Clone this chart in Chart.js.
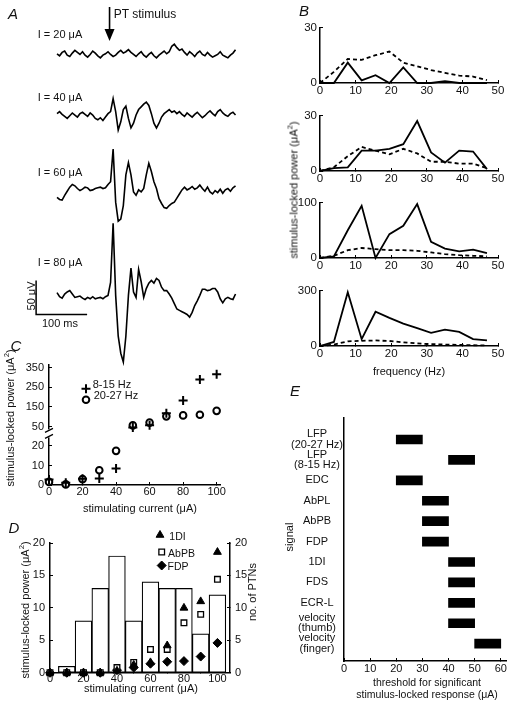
<!DOCTYPE html>
<html>
<head>
<meta charset="utf-8">
<script src="https://cdn.jsdelivr.net/npm/chart.js@4.4.1/dist/chart.umd.min.js"></script>
<style>
  body { margin: 0; background: #fff; }
  #fig { position: relative; width: 516px; height: 705px; overflow: hidden;
         font-family: 'Liberation Sans', Arial, sans-serif; color: #111; }
  #fig canvas { position: absolute; z-index: 1; }
  .t { position: absolute; z-index: 2; color: #111; white-space: nowrap; line-height: 1; transform: translate(-50%, -50%); }
  .t sup { font-size: 0.7em; line-height: 0; }
</style>
</head>
<body>
<div id="fig"></div>
<script>
// ---------- A: LFP traces, one sample every 5 ms from sweep start (uV) ----------
const traceStep = 5;
const traceCurrents = [20, 40, 60, 80];
const trace20 = [0,-3,2,4,-2,-4,1,5,2,-1, 3,-2,-5,-1,4,1,-3,-6,-2,0, 3,-1,-4,-2,2,5,1,3,6,2,
  -1,-4,0,3,-2,-5,-1,2,-3,-6, -2,1,4,0,3,11,14,9,5,7, 2,-2,3,0,-4,1,4,-1,-3,2, -2,-5,-3,-1,3,-2,-4,-6,-2,1, 6];
const trace40 = [2,5,1,-2,-5,-1,3,0,-3,2,4,1,-2,3,0,-5,-7,-4,-8,-3,2,5,
  24,5,-22,-10,8,13,-5,-19,-12,0,8,12,16,19,14,2,-12,-19,-12,-3,2,
  5,8,4,6,2,5,1,-2,3,0,-3,1,4,0,-4,-1,3,6,2,-1,5,8,3,0,-2,2,4,0];
const trace60 = [-3,-6,-7,0,6,12,16,14,10,7,9, 12,11,7,8,10,11,12,10,11,16,20,
  68,-10,-38,-35,-15,30,48,30,5,0,8, 5,10,30,47,35,20,10,-5,-12,-18,-19,
  -15,-12,-10,-4,2,8,12,8,10,13,9, 11,15,10,6,12,5,2,7,4,9,3, 8,10,6,11,14];
const trace80 = [4,-2,-4,2,5,7,2,-3,-2,-1,-4, -6,-3,-5,-2,-5,-4,-3,-5,-2,0,19,
  106,0,-60,-85,-98,-60,0,40,5,-3,38, 20,-3,10,18,22,18,25,22,12,7,7,
  2,-4,-12,-20,-22,-24,-26,-28,-32,-25,-15, -8,0,9,9,7,8,10,10,5,-5,-11, -5,-3,-5,-6,2];
const traceOffsets = [-79, -169, -287, -434];   // stacking of the sweeps (uV)
const stimTime = 103;                            // ms
const barOrigin = { t: -41, v: -462 };           // calibration bar corner
const barSize = { t: 100, v: 50 };               // 100 ms, 50 uV

// ---------- B: stimulus-locked spectra ----------
const freqs = [0, 3.9, 7.8, 11.7, 15.6, 19.5, 23.4, 27.3, 31.2, 35.1, 39.1, 43.0, 46.9];
const spec20 = [0, 0, 11, 1.4, 4.2, 0, 8.4, 0, 0, 1, 0, 0, 0];
const spec20Base = [0, 6, 13, 12.5, 15, 17, 11, 9, 7, 5.5, 4, 3.5, 1.5];
const spec40 = [0, 1.5, 2, 11, 11, 12, 14.5, 27, 10, 4.5, 11, 10.5, 1];
const spec40Base = [0, 2, 8, 13, 11, 9, 12, 9.5, 5, 5, 4, 4, 1.5];
const spec60 = [0, 3, 50, 94, 0, 43, 58, 97, 29, 17, 12, 15, 9];
const spec60Base = [0, 4, 14, 18, 16, 14, 14, 13, 10, 7, 5, 4, 3];
const spec80 = [0, 22, 290, 37, 185, 152, 121, 96, 71, 88, 76, 37, 30];
const spec80Base = [0, 8, 25, 28, 30, 27, 20, 14, 10, 8, 6, 4, 3];
const specMax = [30, 30, 100, 300];
const bTicks = [0, 10, 20, 30, 40, 50];

// ---------- C: power vs stimulating current ----------
const currents = [0, 10, 20, 30, 40, 50, 60, 70, 80, 90, 100];
const power8to15 = [2.8, 1.1, 3.2, 3.3, 8.4, 45, 56, 118, 183, 290, 317];
const power20to27 = [1.6, 0.3, 3.0, 7.6, 17.5, 56, 70, 102, 107, 110, 130];
const cLowMax = 28;
const cTicksX = [0, 20, 40, 60, 80, 100];
const cTicksLow = [0, 10, 20];
const cTicksHigh = [50, 150, 250, 350];

// ---------- D: EMG power and PTN counts ----------
const ptnCurrents = [10, 20, 30, 40, 50, 60, 70, 80, 90, 100];
const ptnCounts = [1, 8, 13, 18, 8, 14, 13, 13, 6, 12];
const emg1DI = [0, 0, 0, 0, 0.3, 1.2, 1.6, 4.2, 10, 11, 18.6];
const emgAbPB = [0, 0, 0, 0, 0.8, 1.6, 3.6, 3.6, 7.7, 9, 14.4];
const emgFDP = [0, 0, 0, 0, 0.4, 0.8, 1.4, 1.7, 1.8, 2.5, 4.6];
const dTicksX = [0, 20, 40, 60, 80, 100];
const dTicksY = [0, 5, 10, 15, 20];

// ---------- E: thresholds ----------
const signals = ['LFP\n(20-27 Hz)', 'LFP\n(8-15 Hz)', 'EDC', 'AbPL', 'AbPB', 'FDP', '1DI', 'FDS', 'ECR-L',
  'velocity\n(thumb)', 'velocity\n(finger)'];
const thresholds = [20, 40, 20, 30, 30, 30, 40, 40, 40, 40, 50];
const stepWidth = 10;
const eTicksX = [0, 10, 20, 30, 40, 50, 60];

Chart.defaults.font.family = "'Liberation Sans', Arial, sans-serif";
Chart.defaults.font.size = 11;
Chart.defaults.color = '#111';
Chart.defaults.animation = false;
Chart.defaults.responsive = false;
Chart.defaults.devicePixelRatio = 1;
Chart.defaults.layout.autoPadding = false;
Chart.defaults.plugins.legend.display = false;
Chart.defaults.plugins.tooltip.enabled = false;

const fig = document.getElementById('fig');

function makeCanvas(area, pad) {
  const c = document.createElement('canvas');
  c.width = area.w + pad.l + pad.r;
  c.height = area.h + pad.t + pad.b;
  c.style.left = (area.x - pad.l) + 'px';
  c.style.top = (area.y - pad.t) + 'px';
  fig.appendChild(c);
  return c;
}

function txt(html, cx, cy, size, kind) {
  const d = document.createElement('div');
  d.className = 't';
  d.innerHTML = html;
  d.style.left = cx + 'px';
  d.style.top = cy + 'px';
  d.style.fontSize = size + 'px';
  if (kind === 'rot') d.style.transform = 'translate(-50%,-50%) rotate(-90deg)';
  if (kind === 'letter') d.style.fontStyle = 'italic';
  fig.appendChild(d);
}

// common axis
function ax(o) {
  return {
    type: 'linear',
    min: o.min, max: o.max,
    position: o.position,
    reverse: !!o.reverse,
    stack: o.stack, stackWeight: o.stackWeight,
    offset: false,
    border: { display: true, color: '#000', width: 1.5 },
    grid: { display: !o.noTicks, drawOnChartArea: false, drawTicks: true, tickLength: -3, color: '#000', lineWidth: 1 },
    ticks: {
      padding: (o.pad == null ? 3 : o.pad) + 3, maxRotation: 0, minRotation: 0, autoSkip: false,
      color: '#111', font: { size: o.size || 11, lineHeight: 0.95 },
      crossAlign: o.crossAlign || 'near',
      callback: o.callback || (v => String(v))
    },
    title: o.title ? { display: true, text: o.title, color: '#111', font: { size: 11 }, padding: 0 } : { display: false },
    afterBuildTicks: s => { if (o.ticks) s.ticks = o.ticks.map(v => ({ value: v })); },
    afterFit: s => { if (o.w != null) s.width = o.w; if (o.h != null) s.height = o.h; }
  };
}

function marker(ctx, style, radius, x, y, fill, lw) {
  ctx.fillStyle = fill;
  ctx.strokeStyle = '#000';
  ctx.lineWidth = lw;
  Chart.helpers.drawPoint(ctx, { pointStyle: style, radius: radius, rotation: 0, borderWidth: lw }, x, y);
}

// ---------- panel A ----------
const arrowPlugin = {
  id: 'arrow',
  afterDatasetsDraw(chart) {
    const ctx = chart.ctx;
    const x = chart.scales.x.getPixelForValue(stimTime);
    ctx.save();
    ctx.strokeStyle = '#000'; ctx.fillStyle = '#000'; ctx.lineWidth = 1.6;
    ctx.beginPath(); ctx.moveTo(x, 7); ctx.lineTo(x, 32); ctx.stroke();
    ctx.beginPath(); ctx.moveTo(x - 5, 29); ctx.lineTo(x + 5, 29); ctx.lineTo(x, 41); ctx.closePath(); ctx.fill();
    ctx.restore();
  }
};
const traces = [trace20, trace40, trace60, trace80];
const aCanvas = makeCanvas({ x: 0, y: 0, w: 260, h: 375 }, { l: 0, t: 0, r: 0, b: 0 });
new Chart(aCanvas, {
  type: 'line',
  data: {
    datasets: traces.map((tr, k) => ({
      data: tr.map((v, i) => ({ x: i * traceStep, y: v + traceOffsets[k] })),
      borderColor: '#000', borderWidth: 1.6, pointRadius: 0, clip: false
    })).concat([{
      data: [
        { x: barOrigin.t, y: barOrigin.v + barSize.v },
        { x: barOrigin.t, y: barOrigin.v },
        { x: barOrigin.t + barSize.t, y: barOrigin.v }
      ],
      borderColor: '#000', borderWidth: 1.5, pointRadius: 0, clip: false
    }])
  },
  options: {
    layout: { padding: 0 },
    scales: {
      x: { type: 'linear', display: false, min: -111.8, max: 398 },
      y: { type: 'linear', display: false, min: -551, max: 0 }
    }
  },
  plugins: [arrowPlugin]
});
txt('A', 13, 13, 15, 'letter');
txt('PT stimulus', 145, 13.5, 12);
traceCurrents.forEach((c, k) => txt('I = ' + c + ' &mu;A', 60, [34, 97, 172, 262][k], 11));
txt('50 &mu;V', 31, 296, 11, 'rot');
txt('100 ms', 60, 322.5, 11);

// ---------- panel B ----------
const spectra = [spec20, spec40, spec60, spec80];
const spectraBase = [spec20Base, spec40Base, spec60Base, spec80Base];
const bTops = [24, 112, 199, 287];
bTops.forEach((top, k) => {
  const last = k === bTops.length - 1;
  const cv = makeCanvas({ x: 320, y: top, w: 178, h: 59 }, { l: 40, t: 8, r: 12, b: last ? 33 : 16 });
  new Chart(cv, {
    type: 'line',
    data: {
      datasets: [
        { data: freqs.map((f, i) => ({ x: f, y: spectra[k][i] })), borderColor: '#000', borderWidth: 1.8, pointRadius: 0, clip: false },
        { data: freqs.map((f, i) => ({ x: f, y: spectraBase[k][i] })), borderColor: '#000', borderWidth: 1.8, borderDash: [4, 3], pointRadius: 0, clip: false }
      ]
    },
    options: {
      layout: { padding: { top: 8, right: 12, left: 0, bottom: 0 } },
      scales: {
        x: ax({ min: 0, max: 50, position: 'bottom', ticks: bTicks, h: last ? 33 : 16, pad: 2, size: 11.5,
                title: last ? 'frequency (Hz)' : null }),
        y: ax({ min: 0, max: specMax[k], position: 'left', ticks: [0, specMax[k]], w: 40, pad: 3, size: 11.5 })
      }
    }
  });
});
txt('B', 304, 10, 15, 'letter');
txt('stimulus-locked power (&mu;A<sup>2</sup>)', 294, 190, 11, 'rot');

// ---------- panel C ----------
const cSplit = (vals, low) => currents.map((c, i) => ({ x: c, y: vals[i] }))
  .filter(p => low ? p.y <= cLowMax : p.y > cLowMax);
const plusStyle = { pointStyle: 'cross', pointRadius: 4.5, borderWidth: 2, borderColor: '#000', clip: false };
const ringStyle = { pointStyle: 'circle', pointRadius: 3.3, borderWidth: 2, borderColor: '#000', backgroundColor: '#fff', clip: false };
const cPlugin = {
  id: 'cExtras',
  afterDraw(chart) {
    const ctx = chart.ctx, a = chart.chartArea;
    const yb = chart.scales.yl.top;
    ctx.save();
    ctx.fillStyle = '#fff';
    ctx.fillRect(a.left - 4, yb - 1, 8, 8);
    ctx.strokeStyle = '#000'; ctx.lineWidth = 1.2;
    ctx.beginPath();
    ctx.moveTo(a.left - 4, yb + 2); ctx.lineTo(a.left + 4, yb - 2);
    ctx.moveTo(a.left - 4, yb + 8); ctx.lineTo(a.left + 4, yb + 4);
    ctx.stroke();
    marker(ctx, 'cross', 4.5, a.left + 37, a.top + 23.5, '#000', 2);
    marker(ctx, 'circle', 3.3, a.left + 37, a.top + 34.5, '#fff', 2);
    ctx.restore();
  }
};
const cCanvas = makeCanvas({ x: 48.5, y: 360, w: 171.5, h: 125 }, { l: 45, t: 8, r: 12, b: 16 });
new Chart(cCanvas, {
  type: 'scatter',
  data: {
    datasets: [
      Object.assign({ data: cSplit(power8to15, true), yAxisID: 'yl' }, plusStyle),
      Object.assign({ data: cSplit(power8to15, false), yAxisID: 'yh' }, plusStyle),
      Object.assign({ data: cSplit(power20to27, true), yAxisID: 'yl' }, ringStyle),
      Object.assign({ data: cSplit(power20to27, false), yAxisID: 'yh' }, ringStyle)
    ]
  },
  options: {
    layout: { padding: { top: 8, right: 12, left: 0, bottom: 0 } },
    scales: {
      x: ax({ min: 0, max: 102, position: 'bottom', ticks: cTicksX, h: 16, pad: 2 }),
      yl: ax({ min: 0, max: cLowMax, position: 'left', stack: 'c', stackWeight: 57, ticks: cTicksLow, w: 45, pad: 5 }),
      yh: ax({ min: 30.4, max: 363, position: 'left', stack: 'c', stackWeight: 68, ticks: cTicksHigh, w: 45, pad: 5 })
    }
  },
  plugins: [cPlugin]
});
txt('C', 16, 345, 15, 'letter');
txt('8-15 Hz', 112, 383.5, 11);
txt('20-27 Hz', 116, 394.5, 11);
txt('stimulus-locked power (&mu;A<sup>2</sup>)', 10, 418, 11, 'rot');
txt('stimulating current (&mu;A)', 140, 508, 11);

// ---------- panel D ----------
const dPoints = vals => currents.map((c, i) => ({ x: c, y: vals[i] }));
const dPlugin = {
  id: 'dLegend',
  afterDraw(chart) {
    const ctx = chart.ctx, a = chart.chartArea;
    ctx.save();
    marker(ctx, 'triangle', 4.5, a.left + 110, a.top - 8, '#000', 1);
    marker(ctx, 'rect', 4, a.left + 111.7, a.top + 9, '#fff', 1.3);
    marker(ctx, 'rectRot', 4.5, a.left + 111.7, a.top + 22.5, '#000', 1);
    ctx.restore();
  }
};
const dCanvas = makeCanvas({ x: 50, y: 543, w: 180, h: 131 }, { l: 40, t: 20, r: 28, b: 12 });
new Chart(dCanvas, {
  type: 'bar',
  data: {
    datasets: [
      { type: 'scatter', data: dPoints(emg1DI), yAxisID: 'y', order: 1, pointStyle: 'triangle', pointRadius: 4.5,
        backgroundColor: '#000', borderColor: '#000', borderWidth: 1, clip: false },
      { type: 'scatter', data: dPoints(emgAbPB), yAxisID: 'y', order: 1, pointStyle: 'rect', pointRadius: 4,
        backgroundColor: '#fff', borderColor: '#000', borderWidth: 1.3, clip: false },
      { type: 'scatter', data: dPoints(emgFDP), yAxisID: 'y', order: 1, pointStyle: 'rectRot', pointRadius: 4.5,
        backgroundColor: '#000', borderColor: '#000', borderWidth: 1, clip: false },
      { type: 'bar', data: ptnCurrents.map((c, i) => ({ x: c, y: ptnCounts[i] })), yAxisID: 'y2', order: 3,
        backgroundColor: '#fff', borderColor: '#000', borderWidth: 1.2, borderSkipped: false,
        barPercentage: 1, categoryPercentage: 1 }
    ]
  },
  options: {
    layout: { padding: { top: 20, right: 0, left: 0, bottom: 0 } },
    scales: {
      x: ax({ min: 0, max: 107.5, position: 'bottom', ticks: dTicksX, h: 12, pad: 1 }),
      y: ax({ min: 0, max: 20, position: 'left', ticks: dTicksY, w: 40, pad: 5 }),
      y2: ax({ min: 0, max: 20, position: 'right', ticks: dTicksY, w: 28, pad: 5 })
    }
  },
  plugins: [dPlugin]
});
txt('D', 14, 527, 15, 'letter');
txt('1DI', 177.5, 535.5, 10.5);
txt('AbPB', 181.5, 552.5, 10.5);
txt('FDP', 178, 566, 10.5);
txt('stimulus-locked power (&mu;A<sup>2</sup>)', 25, 610, 11, 'rot');
txt('no. of PTNs', 252, 592, 11, 'rot');
txt('stimulating current (&mu;A)', 141, 688, 11);

// ---------- panel E ----------
const eCanvas = makeCanvas({ x: 344, y: 409, w: 162, h: 252 }, { l: 58, t: 6, r: 8, b: 16 });
new Chart(eCanvas, {
  type: 'bar',
  data: {
    datasets: [{
      data: thresholds.map((t, i) => ({ x: [t, t + stepWidth], y: i })),
      backgroundColor: '#000', borderWidth: 0, barThickness: 9
    }]
  },
  options: {
    indexAxis: 'y',
    layout: { padding: { top: 6, right: 8, left: 0, bottom: 0 } },
    scales: {
      x: ax({ min: 0, max: 62, position: 'bottom', ticks: eTicksX, h: 16, pad: 3 }),
      y: ax({ min: -1.08, max: 10.85, reverse: true, position: 'left', ticks: signals.map((s, i) => i),
              w: 58, pad: 1, noTicks: true, crossAlign: 'center', callback: v => signals[v].split('\n') })
    }
  }
});
txt('E', 295, 390, 15, 'letter');
txt('signal', 289, 537, 11, 'rot');
txt('threshold for significant', 427, 681.5, 10.5);
txt('stimulus-locked response (&mu;A)', 427, 694, 10.5);
</script>
</body>
</html>
